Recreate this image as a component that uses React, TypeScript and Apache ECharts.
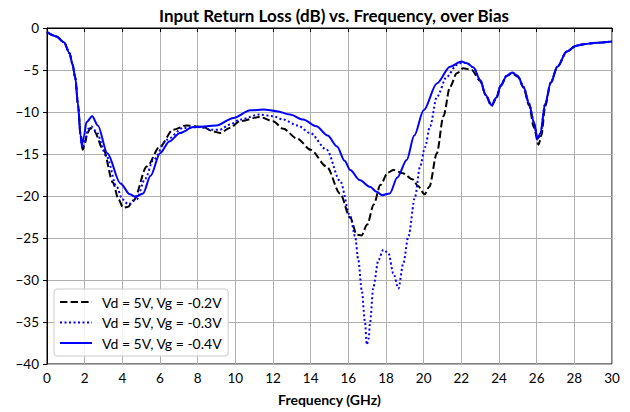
import React, { useEffect, useRef } from "react";
import * as echarts from "echarts";

const seriesNames = ["Vd = 5V, Vg = -0.2V", "Vd = 5V, Vg = -0.3V", "Vd = 5V, Vg = -0.4V"];

const freqStart = [0, 0.5, 0.9, 1.2, 1.35, 1.5, 1.65];
const valStart = [-0.5, -1.0, -1.7, -3.0, -4.3, -5.9, -9.2];

const freqTail = [22.3, 22.65, 23.0, 23.3, 23.6, 23.85, 24.1, 24.4, 24.7, 25.0, 25.3, 25.6, 25.85];
const valTail = [-4.2, -4.7, -6.2, -8.0, -9.2, -8.3, -6.8, -5.7, -5.3, -5.7, -7.0, -9.0, -11.2];

const freqEnd = [26.75, 27.1, 27.6, 28.1, 28.6, 29.2, 30];
const valEnd = [-6.5, -4.6, -2.8, -2.1, -1.9, -1.75, -1.6];

// Vg = -0.2V (dashed black)
const freqA = [
  ...freqStart, 1.78, 1.9, 2.0, 2.15, 2.3, 2.5, 3.0, 3.5, 3.8, 4.05, 4.3, 4.6, 5.3, 6.0, 6.7, 7.4, 8.3,
  8.8, 9.2, 9.7, 10.25, 11.3, 12.0, 12.55, 13.3, 14.0, 14.85, 15.56, 16.1, 16.45, 16.7, 17.0, 17.35,
  17.7, 18.1, 18.4, 18.9, 19.4, 19.7, 20.05, 20.3, 20.7, 21.05, 21.4, 21.76, 22.1, 22.55,
  23.0, 23.3, 23.6, 23.85, 24.1, 24.4, 24.7, 25.0, 25.3, 25.6, 25.85, 26.1, 26.25, 26.45, ...freqEnd,
];
const valA = [
  ...valStart, -12.6, -14.5, -13.8, -12.5, -11.9, -12.3, -14.5, -18.4, -20.4, -21.4, -21.3, -20.5, -16.5,
  -14.1, -12.1, -11.6, -11.8, -12.3, -12.5, -11.9, -11.1, -10.6, -11.1, -12.0, -13.2, -14.5, -16.5,
  -19.7, -22.6, -24.6, -24.7, -23.4, -21.0, -18.7, -17.2, -16.9, -17.3, -18.0, -18.8, -19.8, -18.9,
  -14.9, -10.5, -7.0, -5.4, -4.8, -5.0, -6.3, -8.0, -9.3, -8.4, -6.9, -5.7, -5.4, -5.8, -7.1, -9.2,
  -11.8, -13.9, -12.8, -9.3, ...valEnd,
];

// Vg = -0.3V (dotted blue)
const freqB = [
  ...freqStart, 1.78, 1.88, 2.0, 2.2, 2.35, 2.6, 3.17, 3.7, 4.0, 4.32, 4.76, 5.2, 5.65, 6.36, 7.24, 8.13,
  8.7, 9.19, 9.7, 10.25, 11.3, 12.0, 12.55, 13.3, 13.97, 14.85, 15.56, 16.1, 16.36, 16.53, 16.71, 16.89,
  16.98, 17.08, 17.15, 17.33, 17.6, 17.86, 18.13, 18.39, 18.66, 18.92, 19.19, 19.54, 19.81, 20.07, 20.34,
  20.7, 21.23, 21.76, 22.05, ...freqTail, 26.05, 26.2, 26.45, ...freqEnd,
];
const valB = [
  ...valStart, -12.7, -14.3, -13.4, -12.0, -11.7, -12.3, -15.3, -18.9, -20.4, -21.0, -20.4, -18.0, -15.7,
  -13.3, -11.9, -11.8, -12.1, -12.1, -11.5, -10.9, -10.3, -10.5, -10.9, -11.6, -12.5, -14.5, -18.2, -22.4,
  -24.8, -27.6, -31.2, -35.1, -37.7, -37.0, -35.1, -30.8, -27.6, -26.4, -26.8, -29.2, -31.0, -28.0, -24.8,
  -20.1, -16.5, -14.2, -11.7, -8.2, -5.8, -4.4, -4.1, ...valTail, -13.3, -12.6, -9.0, ...valEnd,
];

// Vg = -0.4V (solid blue)
const freqC = [
  ...freqStart, 1.78, 1.85, 1.95, 2.1, 2.4, 2.7, 3.2, 3.9, 4.4, 4.7, 5.1, 5.5, 6.0, 6.5, 7.06, 7.77, 8.5,
  9.0, 9.9, 10.8, 11.5, 12.2, 12.9, 13.6, 14.3, 14.9, 15.4, 15.8, 16.1, 16.6, 17.15, 17.5, 17.8, 18.2,
  18.6, 19.1, 19.5, 20.0, 20.7, 21.4, 22.0, ...freqTail, 26.05, 26.2, 26.45, ...freqEnd,
];
const valC = [
  ...valStart, -12.8, -14.0, -13.0, -11.2, -10.5, -11.6, -14.9, -18.5, -19.8, -20.1, -19.7, -17.6, -14.9,
  -13.5, -12.5, -11.8, -11.7, -11.6, -10.7, -9.8, -9.7, -9.9, -10.3, -10.9, -11.7, -12.8, -14.1, -15.8,
  -16.9, -18.1, -18.9, -19.5, -19.9, -19.7, -17.8, -15.7, -12.8, -9.8, -6.6, -4.6, -4.0, ...valTail,
  -13.2, -12.5, -9.0, ...valEnd,
];

const xTicks = { min: 0, max: 30, interval: 2 };
const yTicks = { min: -40, max: 0, interval: 5 };

const FONT = "Lato";

const fmt = (v: number) => (v < 0 ? "\u2212" + String(-v) : String(v));

export default function App() {
  const ref = useRef<HTMLDivElement>(null);
  useEffect(() => {
    if (!ref.current) return;
    const chart = echarts.init(ref.current, undefined, { renderer: "svg" });
    const zip = (xs: number[], ys: number[]) => xs.map((x, i) => [x, ys[i]]);
    chart.setOption({
      animation: false,
      backgroundColor: "#ffffff",
      title: {
        text: "Input Return Loss (dB) vs. Frequency, over Bias",
        left: 329,
        textAlign: "center",
        top: 2,
        textStyle: { fontFamily: FONT, fontSize: 17, fontWeight: "bold", color: "#000" },
      },
      grid: { left: 47, right: 18, top: 28, bottom: 48, show: true, borderColor: "#000", borderWidth: 1 },
      legend: {
        orient: "vertical",
        left: 54,
        top: 289,
        padding: [6, 6, 6, 5],
        itemWidth: 32,
        itemHeight: 14,
        itemGap: 6.5,
        backgroundColor: "rgba(255,255,255,0.85)",
        borderColor: "#cccccc",
        borderWidth: 1,
        borderRadius: 3,
        itemStyle: { opacity: 0 },
        textStyle: { fontFamily: FONT, fontSize: 14, color: "#000", padding: [0, 0, 0, 5] },
        data: seriesNames,
      },
      xAxis: {
        type: "value",
        ...xTicks,
        name: "Frequency (GHz)",
        nameLocation: "middle",
        nameGap: 28,
        nameTextStyle: { fontFamily: FONT, fontSize: 14, fontWeight: "bold", color: "#000" },
        axisLine: { lineStyle: { color: "#000", width: 1 } },
        axisTick: { show: true, inside: false, length: 4, lineStyle: { color: "#000" } },
        axisLabel: { fontFamily: FONT, fontSize: 13.5, color: "#000", margin: 7, formatter: fmt },
        splitLine: { show: true, lineStyle: { color: "#b0b0b0", width: 1 } },
      },
      yAxis: {
        type: "value",
        ...yTicks,
        axisLine: { show: true, lineStyle: { color: "#000", width: 1 } },
        axisTick: { show: true, inside: false, length: 4, lineStyle: { color: "#000" } },
        axisLabel: { fontFamily: FONT, fontSize: 13.5, color: "#000", margin: 8, formatter: fmt },
        splitLine: { show: true, lineStyle: { color: "#b0b0b0", width: 1 } },
      },
      series: [
        {
          name: seriesNames[0],
          type: "line",
          data: zip(freqA, valA),
          showSymbol: false,
          symbol: "none",
          smooth: 0.3,
          smoothMonotone: "x",
          lineStyle: { color: "#000000", width: 2, type: [7.4, 3.2] },
          itemStyle: { color: "#000000" },
          z: 2,
        },
        {
          name: seriesNames[1],
          type: "line",
          data: zip(freqB, valB),
          showSymbol: false,
          symbol: "none",
          smooth: 0.3,
          smoothMonotone: "x",
          lineStyle: { color: "#0000ff", width: 2, type: [2, 2.5] },
          itemStyle: { color: "#0000ff" },
          z: 3,
        },
        {
          name: seriesNames[2],
          type: "line",
          data: zip(freqC, valC),
          showSymbol: false,
          symbol: "none",
          smooth: 0.3,
          smoothMonotone: "x",
          lineStyle: { color: "#0000ff", width: 2, type: "solid" },
          itemStyle: { color: "#0000ff" },
          z: 4,
        },
      ],
    });
    return () => chart.dispose();
  }, []);
  return <div ref={ref} style={{ width: 630, height: 412, position: "absolute", left: 0, top: 0 }} />;
}
